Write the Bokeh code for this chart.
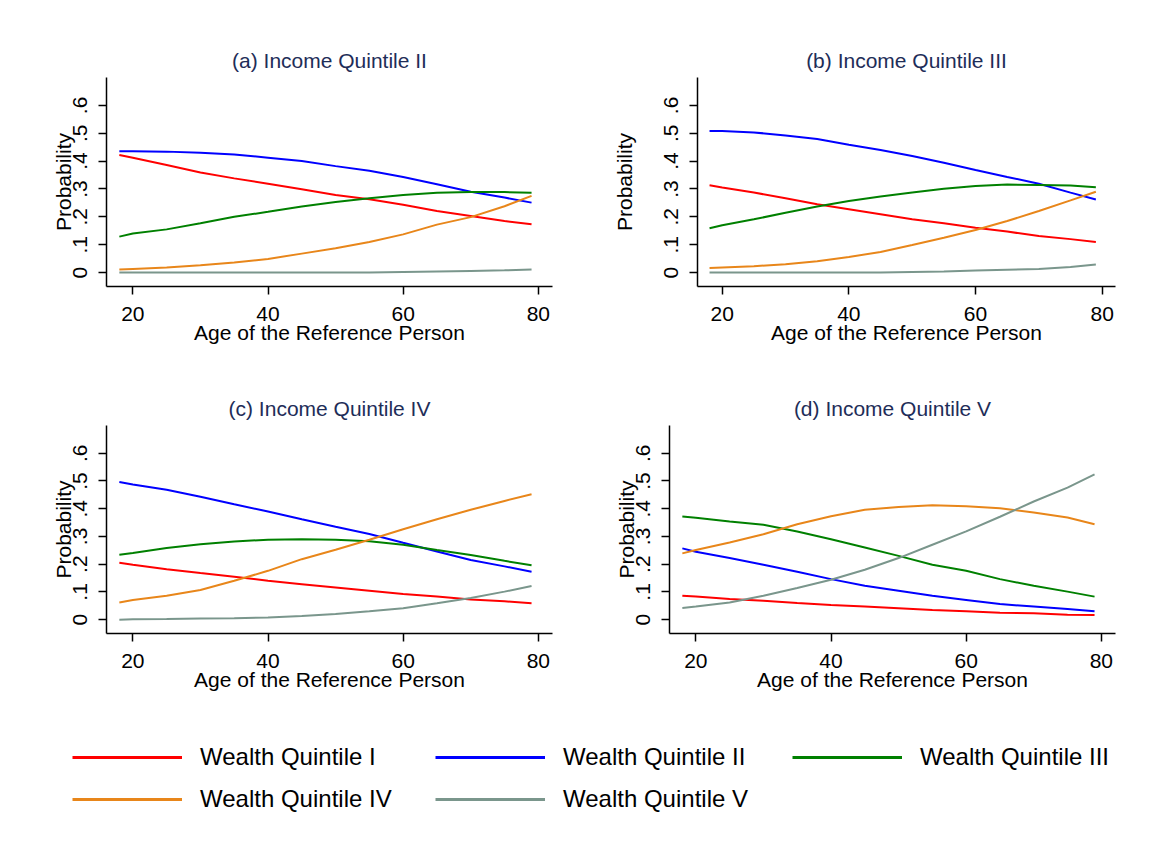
from bokeh.plotting import figure
from bokeh.layouts import column, row
from bokeh.models import Range1d, FixedTicker, Legend, LegendItem
from bokeh.embed import file_html
from bokeh.resources import INLINE

# ---------------- data ----------------
ages = [18, 20, 25, 30, 35, 40, 45, 50, 55, 60, 65, 70, 75, 79]

series_names = ["Wealth Quintile I", "Wealth Quintile II", "Wealth Quintile III",
                "Wealth Quintile IV", "Wealth Quintile V"]
series_colors = ["#FF0000", "#0000FF", "#008000", "#E8861A", "#7A968C"]

panel_titles = ["(a) Income Quintile II", "(b) Income Quintile III",
                "(c) Income Quintile IV", "(d) Income Quintile V"]

# (a) Income Quintile II
a_wq1 = [.422, .412, .386, .359, .338, .319, .299, .278, .263, .243, .221, .203, .185, .173]
a_wq2 = [.435, .435, .434, .430, .424, .412, .400, .382, .365, .343, .317, .290, .269, .251]
a_wq3 = [.129, .140, .155, .177, .200, .218, .237, .253, .267, .278, .286, .289, .289, .286]
a_wq4 = [.011, .013, .018, .026, .036, .049, .068, .087, .110, .137, .172, .199, .238, .275]
a_wq5 = [.000, .000, .000, .000, .000, .000, .000, .000, .000, .002, .004, .006, .008, .011]

# (b) Income Quintile III
b_wq1 = [.313, .305, .287, .267, .245, .227, .209, .191, .177, .161, .147, .131, .120, .110]
b_wq2 = [.508, .508, .503, .492, .479, .459, .440, .418, .394, .368, .343, .319, .287, .262]
b_wq3 = [.159, .170, .191, .215, .237, .257, .273, .287, .301, .311, .316, .314, .312, .306]
b_wq4 = [.016, .018, .023, .030, .041, .056, .074, .099, .125, .153, .185, .221, .259, .290]
b_wq5 = [.000, .000, .000, .000, .000, .000, .000, .002, .004, .007, .010, .013, .020, .029]

# (c) Income Quintile IV
c_wq1 = [.205, .198, .182, .168, .155, .140, .128, .116, .104, .092, .083, .073, .066, .059]
c_wq2 = [.496, .487, .468, .443, .416, .390, .362, .335, .309, .277, .246, .215, .192, .173]
c_wq3 = [.234, .240, .258, .272, .282, .288, .290, .288, .283, .270, .251, .233, .212, .196]
c_wq4 = [.062, .071, .086, .107, .140, .176, .218, .252, .288, .326, .362, .396, .428, .452]
c_wq5 = [.000, .001, .002, .004, .005, .008, .013, .020, .030, .041, .059, .078, .101, .121]

# (d) Income Quintile V
d_wq1 = [.086, .083, .074, .068, .060, .053, .047, .041, .035, .030, .025, .023, .018, .017]
d_wq2 = [.257, .245, .222, .198, .173, .146, .122, .104, .086, .071, .056, .047, .038, .030]
d_wq3 = [.372, .367, .354, .342, .318, .290, .260, .230, .198, .176, .146, .122, .101, .083]
d_wq4 = [.239, .251, .278, .308, .344, .373, .396, .406, .412, .409, .402, .386, .368, .344]
d_wq5 = [.042, .047, .062, .086, .114, .144, .180, .222, .270, .318, .371, .426, .476, .524]

x_ticks = [20, 40, 60, 80]
y_ticks = [0, 0.1, 0.2, 0.3, 0.4, 0.5, 0.6]
y_tick_labels = ["0", ".1", ".2", ".3", ".4", ".5", ".6"]

x_label = "Age of the Reference Person"
y_label = "Probability"

FONT = "Liberation Sans"
TITLE_COLOR = "#1E2D58"


def make_panel(title, series, width, height, left, right, top, bottom, ylab_standoff):
    p = figure(width=width, height=height,
               x_range=Range1d(16.1, 82.1), y_range=Range1d(-0.05, 0.70),
               output_backend="svg", toolbar_location=None,
               min_border_left=left, min_border_right=right,
               min_border_top=top, min_border_bottom=bottom)
    for vals, color in zip(series, series_colors):
        p.line(x=ages, y=vals, line_color=color, line_width=2)

    p.title.text = title
    p.title.align = "center"
    p.title.text_font = FONT
    p.title.text_font_size = "21px"
    p.title.text_font_style = "normal"
    p.title.text_color = TITLE_COLOR
    p.title.standoff = 12

    p.xgrid.visible = False
    p.ygrid.visible = False
    p.outline_line_color = None
    p.background_fill_color = "white"
    p.border_fill_color = "white"

    for ax in (p.xaxis[0], p.yaxis[0]):
        ax.axis_line_color = "black"
        ax.axis_line_width = 1.5
        ax.major_tick_line_color = "black"
        ax.major_tick_line_width = 1.5
        ax.major_tick_out = 8
        ax.major_tick_in = 0
        ax.minor_tick_line_color = None
        ax.major_label_text_font = FONT
        ax.major_label_text_font_size = "21px"
        ax.major_label_text_color = "black"
        ax.axis_label_text_font = FONT
        ax.axis_label_text_font_size = "21px"
        ax.axis_label_text_font_style = "normal"
        ax.axis_label_text_color = "black"

    xa = p.xaxis[0]
    xa.ticker = FixedTicker(ticks=x_ticks)
    xa.axis_label = x_label
    xa.major_label_standoff = 12
    xa.axis_label_standoff = -3

    ya = p.yaxis[0]
    ya.ticker = FixedTicker(ticks=y_ticks)
    ya.major_label_overrides = {t: l for t, l in zip(y_ticks, y_tick_labels)}
    ya.major_label_orientation = "vertical"
    ya.major_label_standoff = 11
    ya.axis_label = y_label
    ya.axis_label_standoff = ylab_standoff
    return p


pa = make_panel(panel_titles[0], [a_wq1, a_wq2, a_wq3, a_wq4, a_wq5],
                588, 370, 106, 36, 77, 84, -4)
pb = make_panel(panel_titles[1], [b_wq1, b_wq2, b_wq3, b_wq4, b_wq5],
                570, 370, 109, 43, 77, 84, 26)
pc = make_panel(panel_titles[2], [c_wq1, c_wq2, c_wq3, c_wq4, c_wq5],
                588, 340, 106, 36, 55, 77, -4)
pd = make_panel(panel_titles[3], [d_wq1, d_wq2, d_wq3, d_wq4, d_wq5],
                570, 340, 81, 43, 55, 77, -4)

# ---------------- legend ----------------
# The series lines live outside the visible y range; only the legend keys show.
pl = figure(width=1158, height=130, x_range=Range1d(0, 100), y_range=Range1d(10, 11),
            output_backend="svg", toolbar_location=None,
            min_border_left=0, min_border_right=0, min_border_top=0, min_border_bottom=0)
pl.axis.visible = False
pl.xgrid.visible = False
pl.ygrid.visible = False
pl.outline_line_color = None
pl.border_fill_color = "white"

legend_pos = [(72, 69), (435, 69), (792, 69), (72, 27), (435, 27)]
for name, color, vals, (vx, vy) in zip(series_names, series_colors,
                                        [a_wq1, a_wq2, a_wq3, a_wq4, a_wq5], legend_pos):
    r = pl.line(x=ages, y=vals, line_color=color, line_width=3)
    lg = Legend(items=[LegendItem(label=name, renderers=[r])], location=(vx, vy),
                glyph_width=110, glyph_height=28, label_height=28,
                label_standoff=18, padding=0, margin=0, spacing=0,
                border_line_color=None, background_fill_alpha=0,
                label_text_font=FONT, label_text_font_size="24px",
                label_text_color="black")
    pl.add_layout(lg)

layout = column(row(pa, pb), row(pc, pd), pl)

with open("out.html", "w") as f:
    f.write(file_html(layout, INLINE))
